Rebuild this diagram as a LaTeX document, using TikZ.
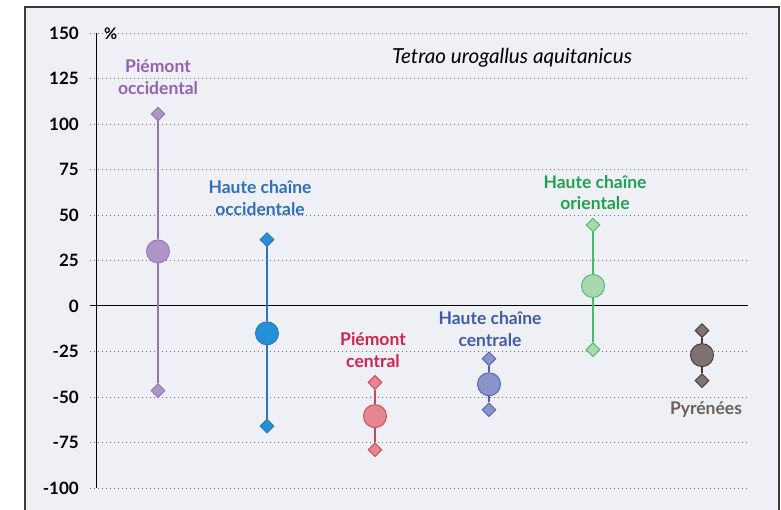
\documentclass[tikz,border=0pt]{standalone}
\usepackage{fontspec}
\setmainfont{Lato}
\usetikzlibrary{shapes.geometric}
\definecolor{bgc}{HTML}{EFF0F6}
\definecolor{framec}{HTML}{3A3A3A}
\definecolor{gridc}{HTML}{707070}
\definecolor{pF}{HTML}{AD95C8}\definecolor{pD}{HTML}{9673B7}\definecolor{pT}{HTML}{9361B0}
\definecolor{bF}{HTML}{2291D8}\definecolor{bD}{HTML}{2E72B8}\definecolor{bT}{HTML}{2D6FBA}
\definecolor{rF}{HTML}{E5878F}\definecolor{rD}{HTML}{D63F5E}\definecolor{rT}{HTML}{D4234F}
\definecolor{iF}{HTML}{8894CA}\definecolor{iD}{HTML}{4D63AE}\definecolor{iT}{HTML}{3F5CA8}
\definecolor{gF}{HTML}{A9D8AE}\definecolor{gD}{HTML}{4CB869}\definecolor{gT}{HTML}{1FA24F}
\definecolor{nF}{HTML}{7F7270}\definecolor{nD}{HTML}{3F3837}\definecolor{nT}{HTML}{6B5F5B}
\newcommand\Yv[1]{306-1.82*#1}
\tikzset{
  gridline/.style={gridc, line width=0.8pt, dash pattern=on 0.8pt off 3.2pt},
  ticklab/.style={anchor=east, font=\fontsize{17}{20}\selectfont\bfseries, text=black, inner sep=0pt},
  dia/.style={diamond, aspect=1, minimum size=14pt, inner sep=0pt, line width=0.9pt},
  dot/.style={circle, minimum size=23pt, inner sep=0pt, line width=0.9pt},
  stem/.style={line width=1.2pt},
  serlab/.style={align=center, font=\fontsize{17.5}{21.5}\selectfont\bfseries, inner sep=0pt},
}
\begin{document}
\begin{tikzpicture}[x=1pt,y=-1pt]
\useasboundingbox (0,0) rectangle (781,510);
\fill[white] (0,0) rectangle (781,510);
\fill[bgc] (25,7) rectangle (779,530);
\draw[framec, line width=1.5pt] (25,530) -- (25,7) -- (779,7) -- (779,530);
% grid
\foreach \v in {150,125,100,75,50,25,-25,-50,-75,-100}{
  \draw[gridline] (90,{\Yv{\v}}) -- (748,{\Yv{\v}});
  \node[ticklab] at (79,{\Yv{\v}}) {\v};
}
\node[ticklab] at (79,306) {0};
\draw[black, line width=1pt] (90,306) -- (748,306);
\draw[black, line width=1pt] (96,33) -- (96,488);
\node[anchor=west, font=\fontsize{16}{18}\selectfont\bfseries, inner sep=0pt] (pct) at (104,34) {\%};
\node[font=\fontsize{20.7}{24}\selectfont\itshape, inner sep=0pt] (title) at (512,58) {Tetrao urogallus aquitanicus};
% series 1
\node[dia, fill=pF, draw=pD] (t1) at (158,{\Yv{105.5}}) {};
\node[dot, fill=pF, draw=pD] (c1) at (158,{\Yv{30}}) {};
\node[dia, fill=pF, draw=pD] (b1) at (158,{\Yv{-46.5}}) {};
\draw[stem, pD] (t1) -- (c1); \draw[stem, pD] (c1) -- (b1);
\node[serlab, text=pT] (l1) at (158,77) {Piémont\\occidental};
% series 2
\node[dia, fill=bF, draw=bD] (t2) at (267,{\Yv{36.5}}) {};
\node[dot, fill=bF, draw=bD] (c2) at (267,{\Yv{-15}}) {};
\node[dia, fill=bF, draw=bD] (b2) at (267,{\Yv{-66}}) {};
\draw[stem, bD] (t2) -- (c2); \draw[stem, bD] (c2) -- (b2);
\node[serlab, text=bT] (l2) at (260,198) {Haute chaîne\\occidentale};
% series 3
\node[dia, fill=rF, draw=rD] (t3) at (375,{\Yv{-42}}) {};
\node[dot, fill=rF, draw=rD] (c3) at (375,{\Yv{-60.5}}) {};
\node[dia, fill=rF, draw=rD] (b3) at (375,{\Yv{-79}}) {};
\draw[stem, rD] (t3) -- (c3); \draw[stem, rD] (c3) -- (b3);
\node[serlab, text=rT] (l3) at (373,350) {Piémont\\central};
% series 4
\node[dia, fill=iF, draw=iD] (t4) at (489,{\Yv{-29}}) {};
\node[dot, fill=iF, draw=iD] (c4) at (489,{\Yv{-43}}) {};
\node[dia, fill=iF, draw=iD] (b4) at (489,{\Yv{-57}}) {};
\draw[stem, iD] (t4) -- (c4); \draw[stem, iD] (c4) -- (b4);
\node[serlab, text=iT] (l4) at (490,329) {Haute chaîne\\centrale};
% series 5
\node[dia, fill=gF, draw=gD] (t5) at (593,{\Yv{44.5}}) {};
\node[dot, fill=gF, draw=gD] (c5) at (593,{\Yv{11}}) {};
\node[dia, fill=gF, draw=gD] (b5) at (593,{\Yv{-24}}) {};
\draw[stem, gD] (t5) -- (c5); \draw[stem, gD] (c5) -- (b5);
\node[serlab, text=gT] (l5) at (595,192.5) {Haute chaîne\\orientale};
% series 6
\node[dia, fill=nF, draw=nD] (t6) at (702,{\Yv{-13.5}}) {};
\node[dot, fill=nF, draw=nD] (c6) at (702,{\Yv{-27}}) {};
\node[dia, fill=nF, draw=nD] (b6) at (702,{\Yv{-41}}) {};
\draw[stem, nD] (t6) -- (c6); \draw[stem, nD] (c6) -- (b6);
\node[serlab, text=nT] (l6) at (706,410) {Pyrénées};
\end{tikzpicture}
\end{document}
